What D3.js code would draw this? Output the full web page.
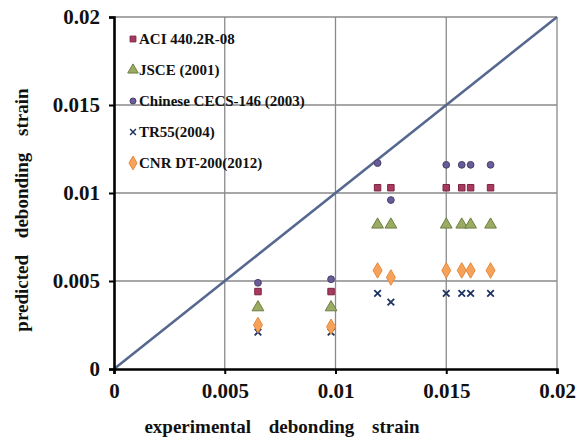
<!DOCTYPE html>
<html><head><meta charset="utf-8">
<script src="https://cdn.jsdelivr.net/npm/d3@7"></script>
<style>
html,body{margin:0;padding:0;background:#fff;}
svg text{font-family:"Liberation Serif","Times New Roman",serif !important;font-weight:bold;fill:#111;}
</style></head>
<body>
<svg id="chart" width="579" height="444"></svg>
<script>
// ---- data ----
const experimental = [0.0065, 0.0098, 0.0119, 0.0125, 0.0150, 0.0157, 0.0161, 0.0170];
const aci   = [0.0044, 0.0044, 0.0103, 0.0103, 0.0103, 0.0103, 0.0103, 0.0103];
const jsce  = [0.0035, 0.0035, 0.0082, 0.0082, 0.0082, 0.0082, 0.0082, 0.0082];
const cecs  = [0.0049, 0.0051, 0.0117, 0.0096, 0.0116, 0.0116, 0.0116, 0.0116];
const tr55  = [0.0021, 0.0021, 0.0043, 0.0038, 0.0043, 0.0043, 0.0043, 0.0043];
const cnr   = [0.0025, 0.0024, 0.0056, 0.0052, 0.0056, 0.0056, 0.0056, 0.0056];
const seriesNames = ["ACI 440.2R-08", "JSCE (2001)", "Chinese CECS-146 (2003)", "TR55(2004)", "CNR DT-200(2012)"];
const tickValues = [0, 0.005, 0.01, 0.015, 0.02];
const tickLabels = ["0", "0.005", "0.01", "0.015", "0.02"];
const lineData = [[0, 0], [0.02, 0.02]];

// ---- layout ----
const svg = d3.select("#chart");
const m = {left:114, top:17, right:22, bottom:75};
const W = 579 - m.left - m.right, H = 444 - m.top - m.bottom;
const x = d3.scaleLinear().domain([0, 0.02]).range([0, W]);
const y = d3.scaleLinear().domain([0, 0.02]).range([H, 0]);
const g = svg.append("g").attr("transform", `translate(${m.left},${m.top})`);

// grid
const gridVals = [0.005, 0.01, 0.015, 0.02];
g.selectAll(".vg").data(gridVals).enter().append("line")
  .attr("x1", d => x(d)).attr("x2", d => x(d)).attr("y1", 0).attr("y2", H)
  .attr("stroke", "#8a8a8a").attr("stroke-width", 1.3);
g.selectAll(".hg").data(gridVals).enter().append("line")
  .attr("x1", 0).attr("x2", W).attr("y1", d => y(d)).attr("y2", d => y(d))
  .attr("stroke", "#8a8a8a").attr("stroke-width", 1.3);

// diagonal
g.append("path").datum(lineData)
  .attr("d", d3.line().x(d => x(d[0])).y(d => y(d[1])))
  .attr("stroke", "#56688f").attr("stroke-width", 2.6).attr("fill", "none");

// markers
const styles = [
  {data: aci,  sym: d3.symbolSquare,   size: 42, fill: "#a83a60", stroke: "#7a2444"},
  {data: jsce, sym: d3.symbolTriangle, size: 60, fill: "#9aab62", stroke: "#6e7e44"},
  {data: cecs, sym: d3.symbolCircle,   size: 36, fill: "#6a5c98", stroke: "#46406a"},
  {data: tr55, sym: d3.symbolX,        size: 30, fill: "none",    stroke: "#1e3360"},
  {data: cnr,  sym: d3.symbolDiamond,  size: 70, fill: "#f6a25a", stroke: "#e58a3c"}
];
styles.forEach(s => {
  g.selectAll(null).data(s.data).enter().append("path")
    .attr("d", d3.symbol().type(s.sym).size(s.size))
    .attr("transform", (d, i) => `translate(${x(experimental[i])},${y(d)})`)
    .attr("fill", s.fill).attr("stroke", s.stroke).attr("stroke-width", s.fill === "none" ? 1.8 : 1);
});

// axes
const xAxis = d3.axisBottom(x).tickValues(tickValues).tickFormat((d, i) => tickLabels[i]).tickSize(5).tickPadding(9);
const yAxis = d3.axisLeft(y).tickValues(tickValues).tickFormat((d, i) => tickLabels[i]).tickSize(5).tickPadding(9);
const gx = g.append("g").attr("transform", `translate(0,${H})`).call(xAxis);
const gy = g.append("g").call(yAxis);
[gx, gy].forEach(a => {
  a.attr("font-family", "Liberation Serif").attr("font-size", 21).attr("font-weight", "bold");
  a.select(".domain").attr("stroke", "#000").attr("stroke-width", 2.6);
  a.selectAll(".tick line").attr("stroke", "#000").attr("stroke-width", 2);
  a.selectAll(".tick text").attr("fill", "#111");
});

// axis titles
svg.append("text").attr("x", 282).attr("y", 433)
  .attr("text-anchor", "middle").style("font-size", "19px").style("word-spacing", "13px")
  .text("experimental debonding strain");
svg.append("text").attr("transform", `translate(28,210) rotate(-90)`)
  .attr("text-anchor", "middle").style("font-size", "19px").style("word-spacing", "12px")
  .text("predicted debonding strain");

// legend
const leg = svg.append("g").attr("transform", "translate(133,39)");
seriesNames.forEach((name, i) => {
  const s = styles[i];
  const row = leg.append("g").attr("transform", `translate(0,${i * 31})`);
  row.append("path").attr("d", d3.symbol().type(s.sym).size(s.size * 0.8))
    .attr("fill", s.fill).attr("stroke", s.stroke).attr("stroke-width", s.fill === "none" ? 1.5 : 1);
  row.append("text").attr("x", 6).attr("y", 5).style("font-size", "15px").text(name);
});
</script>
</body></html>
